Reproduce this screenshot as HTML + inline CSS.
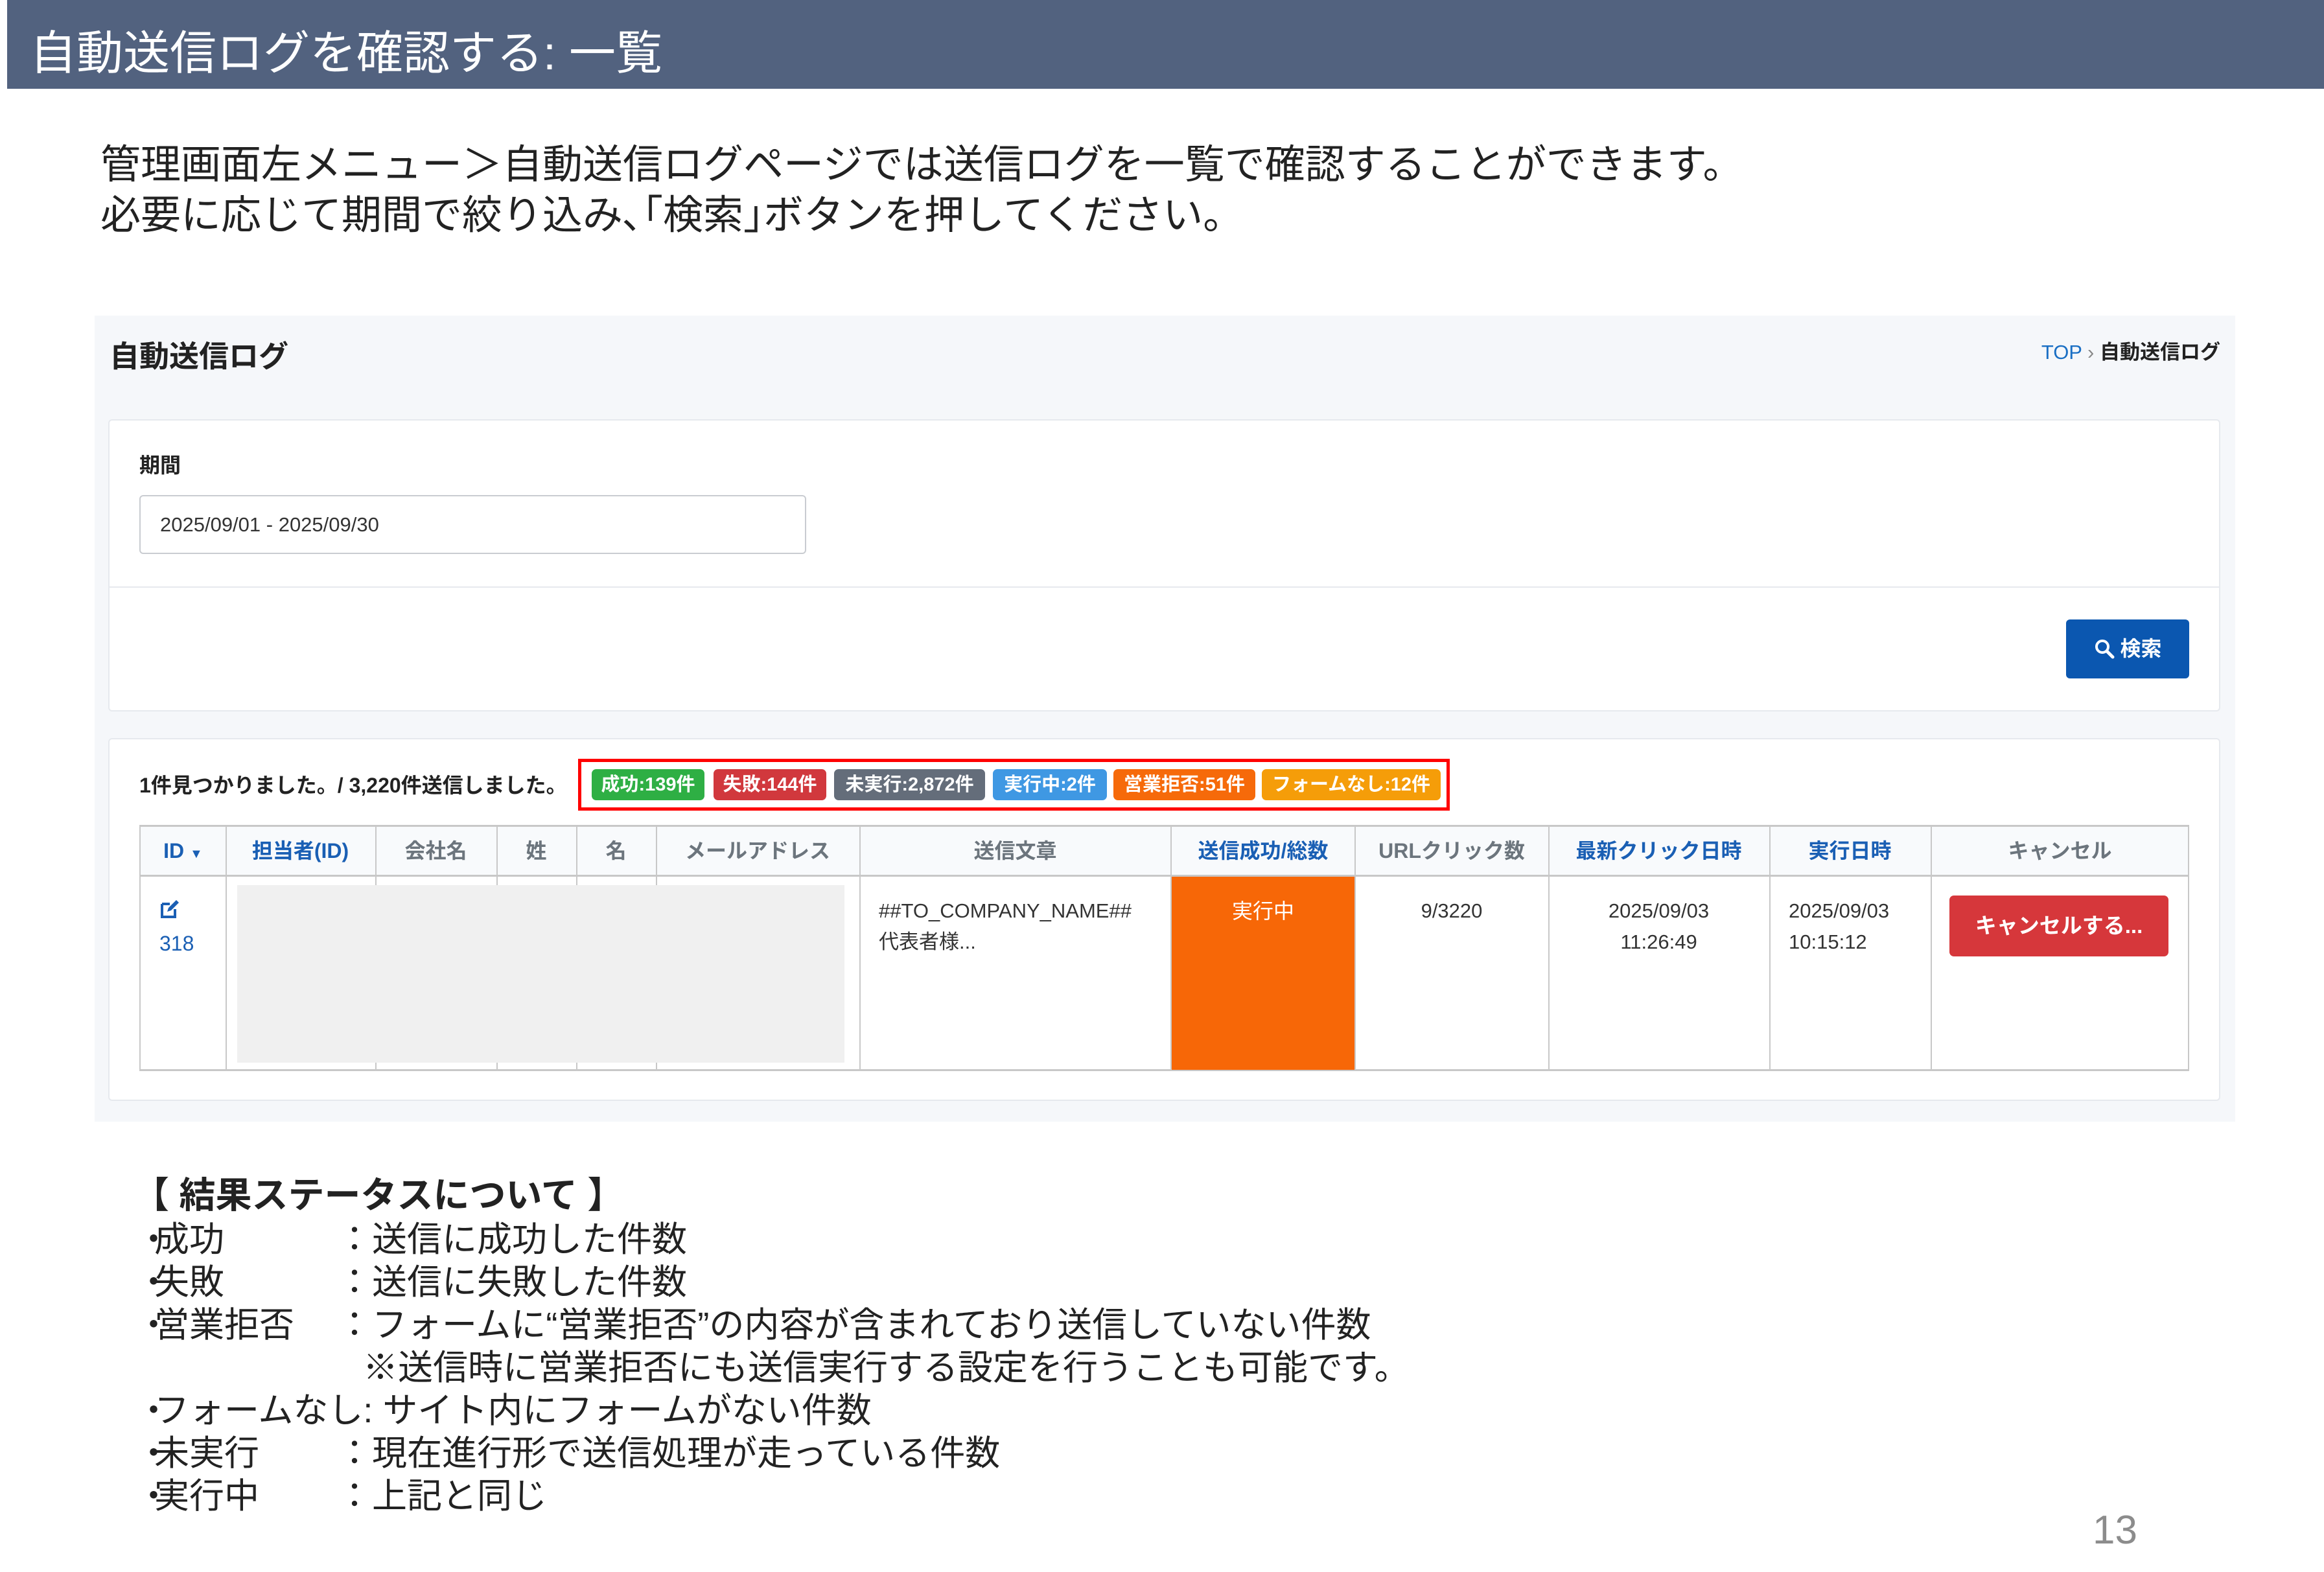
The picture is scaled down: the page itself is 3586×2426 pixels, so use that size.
<!DOCTYPE html>
<html><head><meta charset="utf-8"><style>
*{margin:0;padding:0;box-sizing:border-box}
body{width:3586px;height:2426px;background:#fff;position:relative;overflow:hidden;font-family:"Liberation Sans","Noto Sans CJK JP",sans-serif;color:#222}
.a{position:absolute;white-space:nowrap}
.hdr{left:11px;top:0;width:3575px;height:137px;background:#52627f}
.badge{position:absolute;top:1187px;height:48px;border-radius:7px;color:#fff;font-weight:bold;font-size:29px;line-height:48px;text-align:center}
.th{position:absolute;top:1274px;height:78px;line-height:78px;text-align:center;font-weight:bold;font-size:32px;color:#6c757d}
.bl{color:#1a5fb4}
.vl{position:absolute;width:2px;background:#c8c8c8}
.bt{font-size:54px;line-height:66px;color:#222}
.bt i{font-style:normal;display:inline-block;width:28px;text-align:center}
</style></head><body>
<div class="a hdr"></div>
<div class="a" style="left:46px;top:38px;font-size:72px;line-height:90px;color:#fff">自動送信ログを確認する: 一覧</div>
<div class="a" style="left:155px;top:216px;font-size:62px;line-height:78px;color:#222">管理画面左メニュー＞自動送信ログページでは送信ログを一覧で確認することができます。<br>必要に応じて期間で絞り込み､｢検索｣ボタンを押してください。</div>

<div class="a" style="left:146px;top:487px;width:3303px;height:1244px;background:#f5f7fa"></div>
<div class="a" style="left:169px;top:520px;font-size:46px;font-weight:bold;line-height:60px">自動送信ログ</div>
<div class="a" style="right:160px;top:524px;font-size:31px;line-height:40px"><span style="color:#1a6fc4">TOP</span> <span style="color:#888">›</span> <b>自動送信ログ</b></div>

<div class="a" style="left:167px;top:647px;width:3259px;height:451px;background:#fff;border:2px solid #e6e9ee;border-radius:6px"></div>
<div class="a" style="left:167px;top:905px;width:3259px;height:2px;background:#e6e9ee"></div>
<div class="a" style="left:215px;top:698px;font-size:32px;font-weight:bold;line-height:40px">期間</div>
<div class="a" style="left:215px;top:764px;width:1029px;height:91px;border:2px solid #c9ccd1;border-radius:6px;font-size:31px;line-height:87px;padding-left:30px;color:#333">2025/09/01 - 2025/09/30</div>
<div class="a" style="left:3188px;top:956px;width:190px;height:91px;background:#0b57b0;border-radius:6px;color:#fff;font-size:32px;font-weight:bold;line-height:91px;text-align:center">
<svg width="32" height="32" viewBox="0 0 32 32" style="vertical-align:-5px"><circle cx="13" cy="13" r="9" fill="none" stroke="#fff" stroke-width="4"/><line x1="20" y1="20" x2="29" y2="29" stroke="#fff" stroke-width="5" stroke-linecap="round"/></svg> 検索</div>

<div class="a" style="left:167px;top:1139px;width:3259px;height:560px;background:#fff;border:2px solid #e6e9ee;border-radius:6px"></div>
<div class="a" style="left:215px;top:1191px;font-size:32px;font-weight:bold;line-height:42px">1件見つかりました。/ 3,220件送信しました。</div>
<div class="a" style="left:892px;top:1171px;width:1345px;height:80px;border:5px solid #f00"></div>
<div class="badge" style="left:913px;width:174px;background:#2eaf44">成功:139件</div>
<div class="badge" style="left:1101px;width:174px;background:#d1383d">失敗:144件</div>
<div class="badge" style="left:1287px;width:233px;background:#646d7a">未実行:2,872件</div>
<div class="badge" style="left:1532px;width:176px;background:#3f98e3">実行中:2件</div>
<div class="badge" style="left:1718px;width:219px;background:#f66a0a">営業拒否:51件</div>
<div class="badge" style="left:1947px;width:276px;background:#f59d09">フォームなし:12件</div>

<div class="a" style="left:215px;top:1273px;width:3163px;height:380px;border:2px solid #c8c8c8;border-top-width:3px;border-bottom-width:3px"></div>
<div class="a" style="left:217px;top:1276px;width:3159px;height:76px;background:#f8fafc"></div>
<div class="a" style="left:215px;top:1350px;width:3163px;height:3px;background:#c8c8c8"></div>
<div class="a" style="left:366px;top:1366px;width:937px;height:274px;background:#f0f0f0"></div>
<div class="a" style="left:1807px;top:1353px;width:284px;height:298px;background:#f76707"></div>
<div class="vl" style="left:348px;top:1274px;height:378px"></div>
<div class="vl" style="left:579px;top:1274px;height:92px"></div>
<div class="vl" style="left:766px;top:1274px;height:92px"></div>
<div class="vl" style="left:889px;top:1274px;height:92px"></div>
<div class="vl" style="left:1012px;top:1274px;height:92px"></div>
<div class="vl" style="left:579px;top:1640px;height:12px"></div>
<div class="vl" style="left:766px;top:1640px;height:12px"></div>
<div class="vl" style="left:889px;top:1640px;height:12px"></div>
<div class="vl" style="left:1012px;top:1640px;height:12px"></div>
<div class="vl" style="left:1326px;top:1274px;height:378px"></div>
<div class="vl" style="left:1806px;top:1274px;height:378px"></div>
<div class="vl" style="left:2090px;top:1274px;height:378px"></div>
<div class="vl" style="left:2389px;top:1274px;height:378px"></div>
<div class="vl" style="left:2730px;top:1274px;height:378px"></div>
<div class="vl" style="left:2979px;top:1274px;height:378px"></div>

<div class="th bl" style="left:217px;width:131px">ID <span style="font-size:20px">▼</span></div>
<div class="th bl" style="left:348px;width:231px">担当者(ID)</div>
<div class="th" style="left:579px;width:187px">会社名</div>
<div class="th" style="left:766px;width:123px">姓</div>
<div class="th" style="left:889px;width:123px">名</div>
<div class="th" style="left:1012px;width:314px">メールアドレス</div>
<div class="th" style="left:1326px;width:481px">送信文章</div>
<div class="th bl" style="left:1807px;width:284px">送信成功/総数</div>
<div class="th" style="left:2091px;width:298px">URLクリック数</div>
<div class="th bl" style="left:2389px;width:341px">最新クリック日時</div>
<div class="th bl" style="left:2730px;width:249px">実行日時</div>
<div class="th" style="left:2979px;width:399px">キャンセル</div>

<div class="a" style="left:246px;top:1384px;font-size:32px;line-height:48px;color:#1a5fb4"><svg width="32" height="32" viewBox="0 0 32 32"><path d="M4 8h12M4 8v20h20V16" fill="none" stroke="#1a5fb4" stroke-width="4"/><path d="M12 20l2-6 12-12 4 4-12 12z" fill="#1a5fb4"/></svg><br>318</div>
<div class="a" style="left:1356px;top:1382px;font-size:31px;line-height:48px;color:#333">##TO_COMPANY_NAME##<br>代表者様...</div>
<div class="a" style="left:1807px;top:1382px;width:284px;text-align:center;font-size:32px;line-height:48px;color:#fff">実行中</div>
<div class="a" style="left:2091px;top:1382px;width:298px;text-align:center;font-size:31px;line-height:48px;color:#333">9/3220</div>
<div class="a" style="left:2389px;top:1382px;width:341px;text-align:center;font-size:31px;line-height:48px;color:#333">2025/09/03<br>11:26:49</div>
<div class="a" style="left:2760px;top:1382px;font-size:31px;line-height:48px;color:#333">2025/09/03<br>10:15:12</div>
<div class="a" style="left:3008px;top:1382px;width:338px;height:94px;background:#d6373b;border-radius:7px;color:#fff;font-weight:bold;font-size:33px;line-height:94px;text-align:center">キャンセルする...</div>

<div class="a" style="left:205px;top:1810px;font-size:56px;line-height:70px;font-weight:bold;color:#222">【 結果ステータスについて 】</div>
<div class="a bt" style="left:210px;top:1880px"><i>・</i>成功</div><div class="a bt" style="left:520px;top:1880px">：送信に成功した件数</div>
<div class="a bt" style="left:210px;top:1946px"><i>・</i>失敗</div><div class="a bt" style="left:520px;top:1946px">：送信に失敗した件数</div>
<div class="a bt" style="left:210px;top:2012px"><i>・</i>営業拒否</div><div class="a bt" style="left:520px;top:2012px">：フォームに“営業拒否”の内容が含まれており送信していない件数</div>
<div class="a bt" style="left:560px;top:2078px">※送信時に営業拒否にも送信実行する設定を行うことも可能です。</div>
<div class="a bt" style="left:210px;top:2144px"><i>・</i>フォームなし: サイト内にフォームがない件数</div>
<div class="a bt" style="left:210px;top:2210px"><i>・</i>未実行</div><div class="a bt" style="left:520px;top:2210px">：現在進行形で送信処理が走っている件数</div>
<div class="a bt" style="left:210px;top:2276px"><i>・</i>実行中</div><div class="a bt" style="left:520px;top:2276px">：上記と同じ</div>
<div class="a" style="left:3229px;top:2324px;font-size:62px;line-height:76px;color:#8c8c8c">13</div>
</body></html>
